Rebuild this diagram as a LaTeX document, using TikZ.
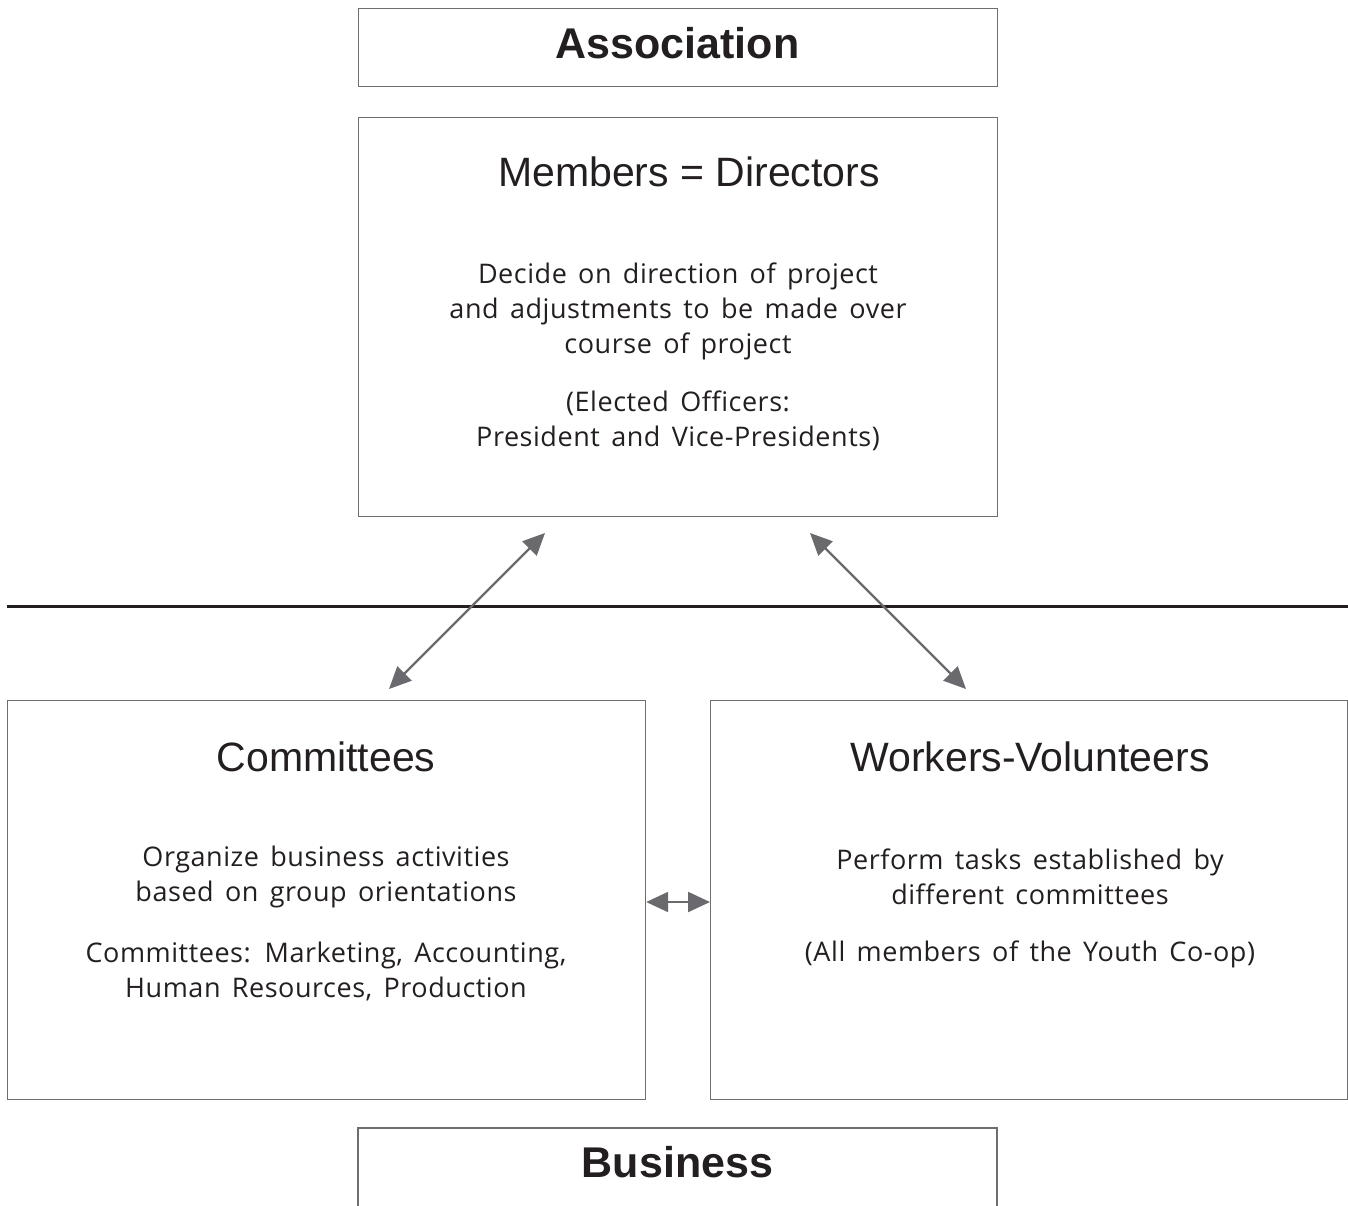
\documentclass[tikz,border=0pt]{standalone}
\usepackage{fontspec}
\setmainfont[Ligatures={NoCommon}, LetterSpace=2, WordSpace={1.5}]{Open Sans}
\newfontfamily\headfont{Liberation Sans}
\usetikzlibrary{arrows.meta}
\definecolor{boxgray}{RGB}{110,110,112}
\definecolor{arrowgray}{RGB}{105,105,110}
\definecolor{textdark}{RGB}{35,31,32}
\tikzset{
  panel/.style={draw=boxgray, line width=1.2pt, fill=none, inner sep=0pt},
  headbold/.style={font=\headfont\bfseries\fontsize{43}{48}\selectfont, text=textdark, inner sep=0pt},
  headreg/.style={font=\headfont\fontsize{41}{46}\selectfont, text=textdark, inner sep=0pt},
  bodytext/.style={font=\fontsize{27}{35}\selectfont, text=textdark, align=center, inner sep=0pt},
  link/.style={draw=arrowgray, line width=2.2pt, {Triangle[length=22pt,width=20pt]}-{Triangle[length=22pt,width=20pt]}},
  divider/.style={draw=textdark, line width=3pt}
}
\begin{document}
\begin{tikzpicture}[x=1pt,y=-1pt]
\useasboundingbox (0,0) rectangle (1348,1205);
% boxes
\node[panel, minimum width=639pt, minimum height=78pt, anchor=north west] (assoc) at (358,8) {};
\node[panel, minimum width=639pt, minimum height=399pt, anchor=north west] (members) at (358,117) {};
\node[panel, minimum width=638pt, minimum height=399pt, anchor=north west] (comm) at (7,700) {};
\node[panel, minimum width=637pt, minimum height=399pt, anchor=north west] (work) at (710,700) {};
\draw[draw=boxgray, line width=1.2pt] (358,1206) -- (358,1128) -- (997,1128) -- (997,1206);
% divider
\coordinate (divL) at (7,606);
\coordinate (divR) at (1348,606);
\draw[divider] (divL) -- (divR);
% texts
\node[headbold] (assocT) at (677.5,43) {Association};
\node[headbold] (busT) at (677.5,1162) {Business};
\node[headreg] (memT) at (689,172) {Members = Directors};
\node[bodytext] (memA) at (678,311) {Decide on direction of project\\and adjustments to be made over\\course of project};
\node[bodytext] (memB) at (678,421) {(Elected Officers:\\President and Vice-Presidents)};
\node[headreg] (comT) at (326,757) {Committees};
\node[bodytext] (comA) at (326,877) {Organize business activities\\based on group orientations};
\node[bodytext] (comB) at (326,971) {Committees: Marketing, Accounting,\\Human Resources, Production};
\node[headreg] (wrkT) at (1030,757) {Workers-Volunteers};
\node[bodytext] (wrkA) at (1030,877) {Perform tasks established by\\different committees};
\node[bodytext] (wrkB) at (1030,954) {(All members of the Youth Co-op)};
% arrows
\coordinate (a1s) at (545,533);
\coordinate (a1e) at (389,689);
\coordinate (a2s) at (810,533);
\coordinate (a2e) at (966,689);
\draw[link] (a1s) -- (a1e);
\draw[link] (a2s) -- (a2e);
\draw[link] (comm.east |- 0,902) -- (work.west |- 0,902);
\end{tikzpicture}
\end{document}
